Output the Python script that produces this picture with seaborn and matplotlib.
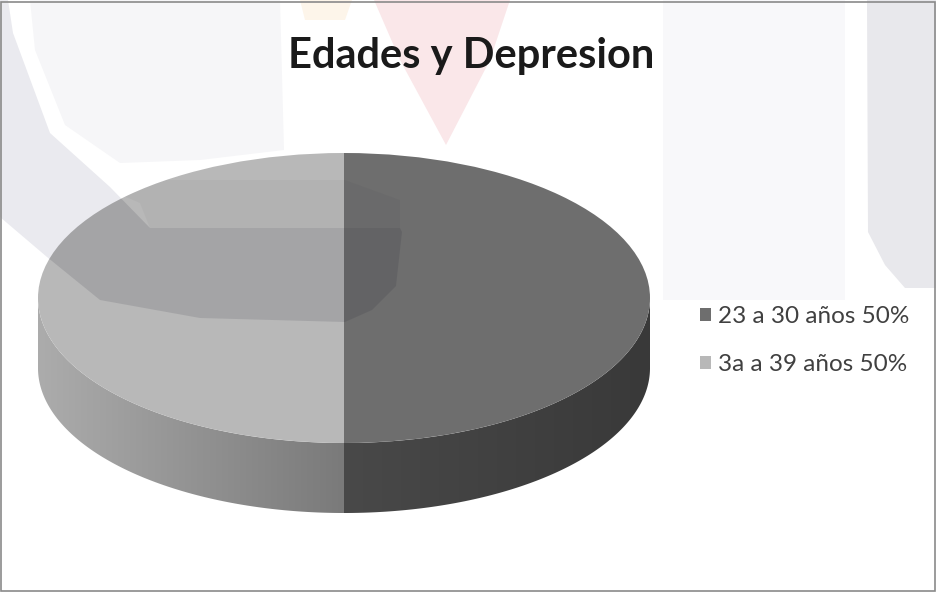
import numpy as np
import matplotlib
matplotlib.use("Agg")
import matplotlib.pyplot as plt
import matplotlib.colors as mcolors
from matplotlib.patches import Rectangle, Polygon, Ellipse
import seaborn as sns

# ---- data ----
labels = ["23 a 30 años 50%", "3a a 39 años 50%"]
values = [50, 50]
title = "Edades y Depresion"

sns.set_theme(style="white")
plt.rcParams["font.family"] = ["Lato", "DejaVu Sans"]

top_colors = sns.color_palette(["#6e6e6e", "#b8b8b8"])
# side wall colours at x=0 (centre) and at the outer edge |x|=1
wall_cols = [("#494949", "#393939"), ("#7a7a7a", "#acacac")]

W, H = 937, 592
fig = plt.figure(figsize=(W / 100, H / 100), dpi=100)
fig.patch.set_facecolor("white")

# ---- faint background watermark (decoration only) ----
ring = [(0, 0), (0, 217), (47, 257), (100, 300), (200, 318), (345, 322), (372, 310),
        (396, 286), (402, 232), (400, 228), (150, 228), (110, 187), (50, 133), (13, 33), (8, 0)]
bg = fig.add_axes([0, 0, 1, 1], zorder=-1)
bg.set_xlim(0, W); bg.set_ylim(H, 0); bg.axis("off")
bg.add_patch(Polygon([(30, 0), (280, 0), (284, 150), (200, 160), (120, 163), (65, 125), (35, 50)],
                     closed=True, facecolor="#f6f6f8", edgecolor="none"))
bg.add_patch(Polygon(ring, closed=True, facecolor="#eaeaef", edgecolor="none"))
bg.add_patch(Polygon([[374, 0], [510, 0], [490, 60], [446, 145], [400, 60]],
                     closed=True, facecolor="#fae7e9", edgecolor="none"))
bg.add_patch(Polygon([[300, 0], [352, 0], [345, 20], [305, 20]],
                     closed=True, facecolor="#fdf5ea", edgecolor="none"))
bg.add_patch(Rectangle((663, 0), 182, 300, facecolor="#f8f8fa", edgecolor="none"))
bg.add_patch(Polygon([[867, 0], [937, 0], [937, 288], [905, 288], [885, 265], [868, 232]],
                     closed=True, facecolor="#e8e8ec", edgecolor="none"))

# ---- pie geometry in pixels ----
top_px, left_px, right_px = 153, 38, 650
ry_px = 145
depth_px = 70
rx_px = (right_px - left_px) / 2
d = depth_px / ry_px  # depth in data units (radius = 1)

pad = 4
ax_left = left_px - pad
ax_w = (right_px - left_px) + 2 * pad
ax_top = top_px - pad
ax_h = 2 * ry_px + depth_px + 2 * pad
ax = fig.add_axes([ax_left / W, 1 - (ax_top + ax_h) / H, ax_w / W, ax_h / H])
ax.patch.set_alpha(0)

wedges, _ = ax.pie(values, colors=top_colors, startangle=90, counterclock=False,
                   radius=1, wedgeprops=dict(linewidth=0))
for w in wedges:
    w.set_zorder(3)
ax.set_aspect("auto")
xlo, xhi = -1 - pad / rx_px, 1 + pad / rx_px
ylo, yhi = -1 - d - pad / ry_px, 1 + pad / ry_px
ax.set_xlim(xlo, xhi)
ax.set_ylim(ylo, yhi)

# side walls: visible lower half of each wedge (angles 180..360)
for i, w in enumerate(wedges):
    angs = np.linspace(w.theta1, w.theta2, 721) % 360
    vis = np.sort(angs[(angs >= 180) & (angs <= 360)])
    if vis.size < 2:
        continue
    xs, ys = np.cos(np.radians(vis)), np.sin(np.radians(vis))
    poly = np.vstack([np.column_stack([xs, ys]),
                      np.column_stack([xs[::-1], ys[::-1] - d])])
    patch = Polygon(poly, closed=True, facecolor="none", edgecolor="none")
    ax.add_patch(patch)
    cC = np.array(mcolors.to_rgb(wall_cols[i][0]))
    cE = np.array(mcolors.to_rgb(wall_cols[i][1]))
    xgrid = np.linspace(xlo, xhi, 600)
    f = np.clip(np.abs(xgrid), 0, 1)[:, None]
    img = (cC + (cE - cC) * f)[None, :, :]
    im = ax.imshow(img, extent=[xlo, xhi, ylo, yhi], aspect="auto",
                   interpolation="bilinear", zorder=2)
    im.set_clip_path(patch)
ax.set_xlim(xlo, xhi)
ax.set_ylim(ylo, yhi)
ax.axis("off")

# top-face clip for the translucent watermark overlay
top_face = Ellipse((0, 0), 2, 2, transform=ax.transData)

ov = fig.add_axes([0, 0, 1, 1], zorder=2)
ov.set_xlim(0, W); ov.set_ylim(H, 0); ov.axis("off"); ov.patch.set_alpha(0)
p1 = Polygon(ring, closed=True, facecolor="#202030", alpha=0.13, edgecolor="none")
ov.add_patch(p1); p1.set_clip_path(top_face)
p2 = Polygon([(117, 180), (345, 180), (400, 200), (400, 228), (150, 228), (140, 203), (110, 190)],
             closed=True, facecolor="#202030", alpha=0.04, edgecolor="none")
ov.add_patch(p2); p2.set_clip_path(top_face)

fig.text(471 / W, 1 - 56 / H, title, ha="center", va="center",
         fontsize=30, fontweight="bold", color="#1a1a1a", zorder=10)

leg = fig.legend(wedges, labels, loc="upper left",
                 bbox_to_anchor=(700 / W, 1 - 306 / H), frameon=False,
                 fontsize=17.5, handlelength=0.45, handleheight=0.45,
                 handletextpad=0.3, labelspacing=1.13, borderpad=0, borderaxespad=0)
leg.set_zorder(10)
for tx in leg.get_texts():
    tx.set_color("#404040")
for h in leg.legend_handles:
    h.set_edgecolor("none")

fig.add_artist(Rectangle((1.5 / W, 1.5 / H), 1 - 3.5 / W, 1 - 3.5 / H,
                         transform=fig.transFigure, fill=False,
                         edgecolor="#8a8a8a", linewidth=1.2, zorder=20))

fig.savefig("out.png", dpi=100, facecolor="white")
